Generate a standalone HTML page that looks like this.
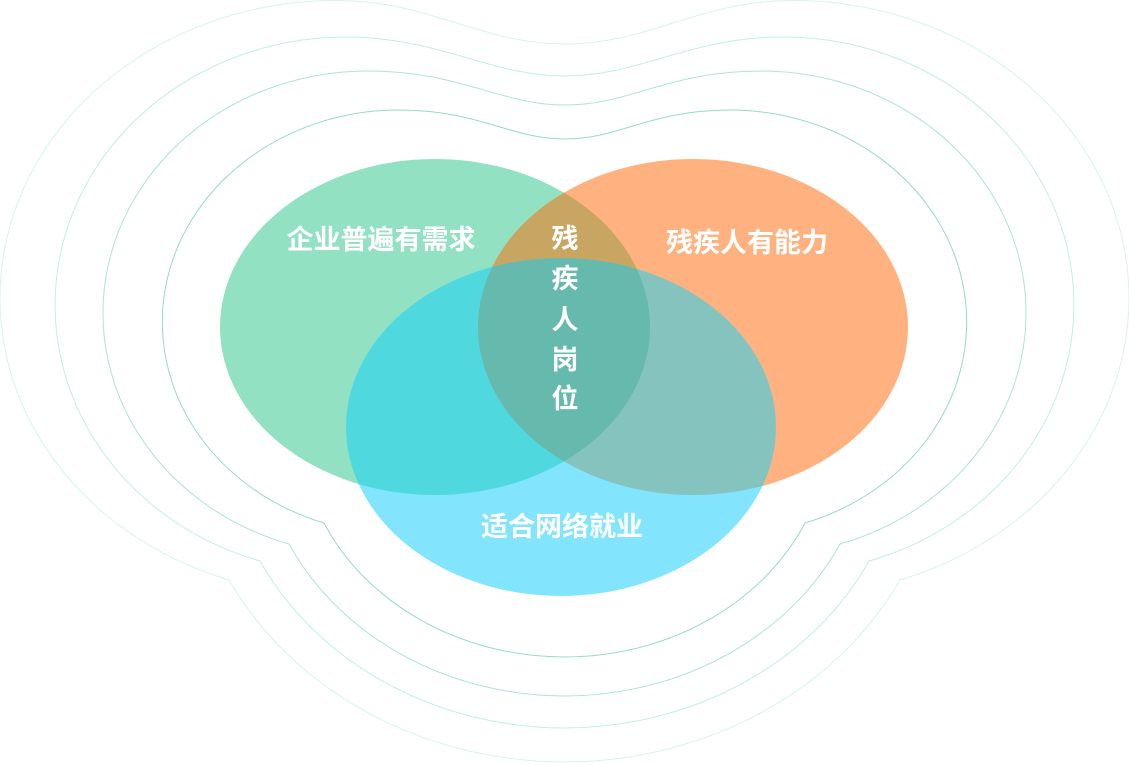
<!DOCTYPE html>
<html><head><meta charset="utf-8"><style>
html,body{margin:0;padding:0;background:#fff;}
svg{display:block;}
text{font-family:"Liberation Sans","Noto Sans CJK SC",sans-serif;fill:#fff;font-weight:bold;}
</style></head><body>
<svg width="1129" height="766" viewBox="0 0 1129 766" xmlns="http://www.w3.org/2000/svg">
<defs>
<clipPath id="cg"><ellipse cx="435" cy="327" rx="215" ry="168"/></clipPath>
<clipPath id="co"><ellipse cx="693" cy="327" rx="215" ry="168"/></clipPath>
</defs>
<g fill="none" stroke="#7fd6c0" stroke-width="1">
<path opacity="0.85" d="M565,139 C510,139 480,110 398,110 A237,212 0 0 0 324,523 A265,230 0 0 0 565,657 A265,230 0 0 0 805,523 A237,212 0 0 0 731,110 C649,110 620,139 565,139 Z"/>
<path opacity="0.65" d="M565,105 C500,105 460,71 368,71 A265,242 0 0 0 289,544 A307,269 0 0 0 565,696 A307,269 0 0 0 840,544 A265,242 0 0 0 761,71 C669,71 630,105 565,105 Z"/>
<path opacity="0.45" d="M565,76 C490,76 440,37 345,37 A291,268 0 0 0 260,561 A341,301 0 0 0 565,728 A341,301 0 0 0 869,561 A291,268 0 0 0 784,37 C689,37 640,76 565,76 Z"/>
<path opacity="0.3" d="M565,44 C480,44 430,0.5 337,0.5 A336,297.5 0 0 0 229,580 A378,335 0 0 0 565,762 A378,335 0 0 0 900,580 A336,297.5 0 0 0 792,0.5 C699,0.5 650,44 565,44 Z"/>
</g>
<ellipse cx="435" cy="327" rx="215" ry="168" fill="#93e1c3"/>
<ellipse cx="693" cy="327" rx="215" ry="168" fill="#ffb27f"/>
<ellipse cx="561" cy="427" rx="215" ry="169" fill="#82e5fd"/>
<g clip-path="url(#cg)"><ellipse cx="693" cy="327" rx="215" ry="168" fill="#c8a561"/>
<ellipse cx="561" cy="427" rx="215" ry="169" fill="#4fd9df"/></g>
<g clip-path="url(#co)"><ellipse cx="561" cy="427" rx="215" ry="169" fill="#85c3be"/></g>
<g clip-path="url(#cg)"><g clip-path="url(#co)"><ellipse cx="561" cy="427" rx="215" ry="169" fill="#66b9ad"/></g></g>
<text x="381" y="249" font-size="27" text-anchor="middle">企业普遍有需求</text>
<text x="747" y="252" font-size="27" text-anchor="middle">残疾人有能力</text>
<text x="562" y="536" font-size="27" text-anchor="middle">适合网络就业</text>
<g font-size="27" text-anchor="middle">
<text x="565" y="248">残</text>
<text x="565" y="288">疾</text>
<text x="565" y="329">人</text>
<text x="565" y="369">岗</text>
<text x="565" y="408">位</text>
</g>
</svg>
</body></html>
